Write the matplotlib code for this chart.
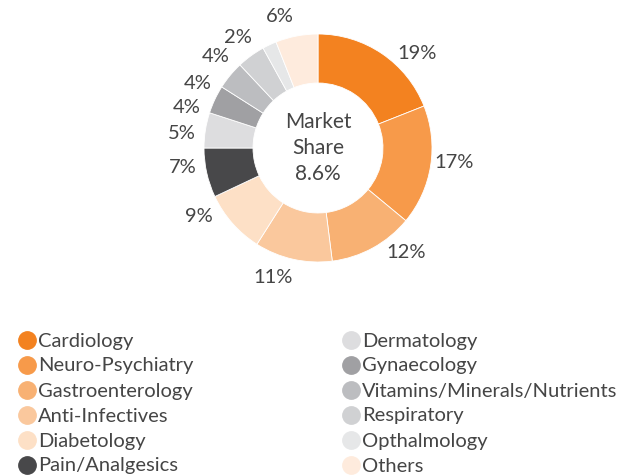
import numpy as np
import matplotlib.pyplot as plt
from matplotlib.lines import Line2D

categories = ["Cardiology", "Neuro-Psychiatry", "Gastroenterology", "Anti-Infectives",
              "Diabetology", "Pain/Analgesics", "Dermatology", "Gynaecology",
              "Vitamins/Minerals/Nutrients", "Respiratory", "Opthalmology", "Others"]
shares = [19, 17, 12, 11, 9, 7, 5, 4, 4, 4, 2, 6]
colors = ["#F38220", "#F79A4A", "#F8B173", "#FAC89D", "#FDE0C6", "#48484A",
          "#DDDDDF", "#A0A0A3", "#BCBDC0", "#D0D1D3", "#E6E7E8", "#FEEBDD"]
center_text = "Market\nShare\n8.6%"

plt.rcParams['font.family'] = ['Lato', 'DejaVu Sans']
txt = "#454545"

fig = plt.figure(figsize=(6.25, 4.76), dpi=100)

# pie axes: 114 px per unit, centre at (318, 148) from top
W, H = 625, 476
cx, cy, s = 318, 148, 114
ax = fig.add_axes([(cx - 1.5 * s) / W, (H - cy - 1.5 * s) / H, 3 * s / W, 3 * s / H])
wedges, _ = ax.pie(shares, colors=colors, startangle=90, counterclock=False,
                   wedgeprops=dict(width=0.43, edgecolor="white", linewidth=0.6))

# percentage labels, pulled a bit toward the horizontal
for w, v in zip(wedges, shares):
    a = np.deg2rad((w.theta1 + w.theta2) / 2)
    a2 = np.arctan2(0.65 * np.sin(a), np.cos(a))
    ax.text(1.2 * np.cos(a2), 1.2 * np.sin(a2), f"{v}%", ha="center", va="center",
            fontsize=14.5, color=txt)

ax.text(0, 0, center_text, ha="center", va="center", fontsize=15,
        color=txt, linespacing=1.38)
ax.set_xlim(-1.5, 1.5)
ax.set_ylim(-1.5, 1.5)
ax.axis("off")

# legend, two columns of six
rows_y = [340, 365, 390, 415, 440, 465]
col_x = [27, 351]
for i, (name, c) in enumerate(zip(categories, colors)):
    col, row = divmod(i, 6)
    x = col_x[col]
    y = H - rows_y[row]
    fig.add_artist(Line2D([x / W], [y / H], marker="o", markersize=12.5,
                          color=c, linestyle="none", transform=fig.transFigure))
    fig.text((x + 11) / W, (y - 1) / H, name, ha="left", va="center",
             fontsize=14.5, color=txt)

fig.savefig("out.png", dpi=100)
